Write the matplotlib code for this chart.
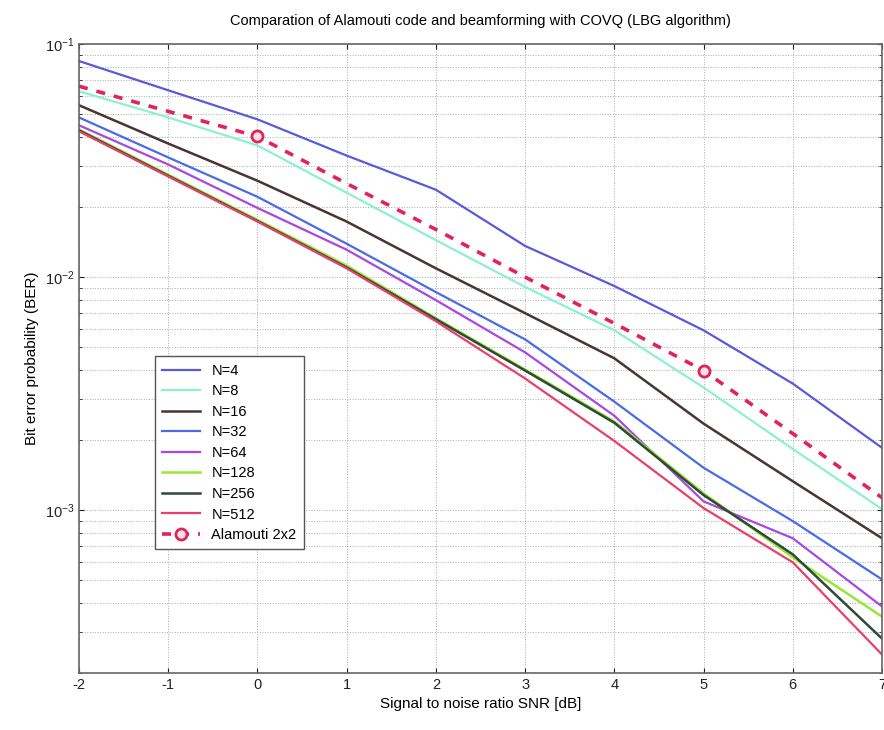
import matplotlib
matplotlib.use('Agg')
import numpy as np
import matplotlib.pyplot as plt

plt.rcParams['font.family'] = ['Liberation Sans', 'DejaVu Sans']
plt.rcParams['axes.unicode_minus'] = False

# DATA

snr = [-2, -1, 0, 1, 2, 3, 4, 5, 6, 7]

ber_n4   = [0.0845, 0.0633, 0.0475, 0.0332, 0.0237, 0.0136, 0.00915, 0.00591, 0.00349, 0.00185]
ber_n8   = [0.0627, 0.0484, 0.0367, 0.0230, 0.0144, 0.00906, 0.00591, 0.00336, 0.00183, 0.00101]
ber_n16  = [0.0546, 0.0374, 0.0259, 0.0173, 0.0109, 0.00700, 0.00448, 0.00235, 0.00133, 0.000757]
ber_n32  = [0.0484, 0.0326, 0.0221, 0.0139, 0.00862, 0.00540, 0.00292, 0.00152, 0.000897, 0.000504]
ber_n64  = [0.0448, 0.0304, 0.0198, 0.0131, 0.00796, 0.00475, 0.00254, 0.00109, 0.000757, 0.000386]
ber_n128 = [0.0430, 0.0275, 0.0176, 0.0112, 0.00666, 0.00401, 0.00240, 0.00118, 0.000627, 0.000349]
ber_n256 = [0.0426, 0.0272, 0.0174, 0.0110, 0.00659, 0.00397, 0.00237, 0.00116, 0.000646, 0.000281]
ber_n512 = [0.0422, 0.0270, 0.0173, 0.0109, 0.00646, 0.00367, 0.00198, 0.00102, 0.000597, 0.000240]
ber_alamouti = [0.0659, 0.0514, 0.0401, 0.0252, 0.0160, 0.0100, 0.00633, 0.00397, 0.00213, 0.00113]

series = [
    ('N=4',   ber_n4,   '#5a5ad8', 1.6),
    ('N=8',   ber_n8,   '#8ef0d0', 1.6),
    ('N=16',  ber_n16,  '#4a3434', 1.8),
    ('N=32',  ber_n32,  '#4a6ae6', 1.6),
    ('N=64',  ber_n64,  '#a848e0', 1.6),
    ('N=128', ber_n128, '#9ae634', 1.8),
    ('N=256', ber_n256, '#2e4a36', 1.8),
    ('N=512', ber_n512, '#e8406a', 1.6),
]

# FIGURE

fig = plt.figure(figsize=(8.84, 7.3), dpi=100)
ax = fig.add_axes([79/884, 1 - 673/730, 803/884, 629/730])

for name, vals, color, lw in series:
    ax.semilogy(snr, vals, color=color, lw=lw, label=name)

ax.semilogy(snr, ber_alamouti, color='#e0245a', lw=2.6, linestyle=(0, (2.5, 2.5)),
            marker='o', markevery=[2, 7], markersize=8, markerfacecolor='#fbe0e8',
            markeredgecolor='#e0245a', markeredgewidth=2, label='Alamouti 2x2')

ax.set_xlim((-2, 7))
ax.set_ylim((2e-4, 1e-1))
ax.set_xticks(snr)
ax.grid(True, which='both', linestyle=':', color='#aaaaaa', lw=0.7)
ax.tick_params(which='both', direction='in', top=True, right=True, labelsize=10.5, colors='#222222')
for s in ax.spines.values():
    s.set_color('#666666')
    s.set_linewidth(1.2)

ax.set_xlabel('Signal to noise ratio SNR [dB]', fontsize=11)
ax.set_ylabel('Bit error probability (BER)', fontsize=11)
ax.set_title('Comparation of Alamouti code and beamforming with COVQ (LBG algorithm)', fontsize=10.5, pad=14)

leg = ax.legend(loc='upper left', bbox_to_anchor=(0.085, 0.515), fontsize=10.5,
                fancybox=False, edgecolor='#555555', framealpha=1, handlelength=2.6,
                labelspacing=0.45, borderpad=0.5)
leg.get_frame().set_linewidth(1.0)

fig.savefig('out.png', dpi=100)
plt.close(fig)
